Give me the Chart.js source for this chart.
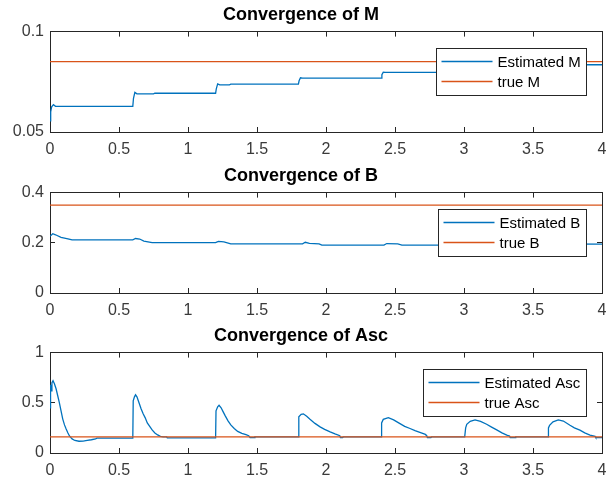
<!DOCTYPE html>
<html>
<head>
<meta charset="utf-8">
<script src="https://cdn.jsdelivr.net/npm/chart.js@4.4.0/dist/chart.umd.min.js"></script>
<style>
    html, body { margin: 0; padding: 0; background: #fff; }
    .plot { position: absolute; left: 0; width: 609px; height: 161px; }
</style>
</head>
<body>
<div class="plot" style="top:0"><canvas id="plot-m"></canvas></div>
<div class="plot" style="top:161px"><canvas id="plot-b"></canvas></div>
<div class="plot" style="top:321px"><canvas id="plot-asc"></canvas></div>
<script>
// time axis ticks shared by the three subplots
const xTicks = [0, 0.5, 1, 1.5, 2, 2.5, 3, 3.5, 4];

// Convergence of M
const timeM = [0, 0.005, 0.012, 0.025, 0.04, 0.6, 0.605, 0.615, 0.63, 0.75, 0.76, 1.2, 1.205, 1.215, 1.23, 1.3, 1.31,
    1.8, 1.805, 1.815, 1.83, 2.4, 2.405, 2.415, 2.43, 3.0, 3.005, 3.015, 3.03, 3.6, 3.605, 3.615, 3.63, 4.0];
const estM = [0.0556, 0.060, 0.0625, 0.0636, 0.0628, 0.0628, 0.0668, 0.0697, 0.0690, 0.0690, 0.0693, 0.0693, 0.0715, 0.0740, 0.0735, 0.0735, 0.0738,
    0.0738, 0.0755, 0.0770, 0.0768, 0.0768, 0.0785, 0.0798, 0.0797, 0.0797, 0.0810, 0.0818, 0.0818, 0.0818, 0.0828, 0.0835, 0.0835, 0.0835];
const trueM = 0.085;
const yTicksM = [0.05, 0.1];

// Convergence of B
const timeB = [0, 0.02, 0.04, 0.08, 0.13, 0.16, 0.6, 0.62, 0.65, 0.68, 0.74, 1.2, 1.22, 1.26, 1.31, 1.83, 1.85, 1.88, 1.95, 1.97,
    2.42, 2.44, 2.52, 2.55, 3.02, 3.04, 3.15, 3.6, 3.64, 4.0];
const estB = [0.226, 0.236, 0.232, 0.222, 0.216, 0.212, 0.212, 0.217, 0.215, 0.207, 0.201, 0.201, 0.206, 0.204, 0.196, 0.196, 0.202, 0.198, 0.196, 0.191,
    0.191, 0.197, 0.196, 0.191, 0.191, 0.195, 0.193, 0.193, 0.196, 0.195];
const trueB = 0.35;
const yTicksB = [0, 0.2, 0.4];

// Convergence of Asc
const timeAsc = [0, 0.004, 0.008, 0.014, 0.022, 0.032, 0.044, 0.056, 0.068, 0.08, 0.092, 0.105, 0.117, 0.13, 0.141, 0.16, 0.18, 0.21, 0.24, 0.27, 0.3, 0.33, 0.34, 0.6,
    0.603, 0.612, 0.62, 0.63, 0.645, 0.66, 0.675, 0.69, 0.705, 0.72, 0.74, 0.76, 0.78, 0.8, 0.82, 0.845, 0.85, 1.2,
    1.203, 1.215, 1.225, 1.24, 1.255, 1.27, 1.29, 1.31, 1.335, 1.36, 1.39, 1.42, 1.44, 1.45, 1.48, 1.485, 1.8,
    1.803, 1.82, 1.836, 1.86, 1.884, 1.92, 1.957, 1.99, 2.03, 2.065, 2.1, 2.105, 2.12, 2.125, 2.4,
    2.403, 2.415, 2.452, 2.49, 2.536, 2.57, 2.609, 2.645, 2.68, 2.72, 2.73, 2.735, 2.76, 2.765, 3.005,
    3.012, 3.02, 3.045, 3.08, 3.12, 3.164, 3.2, 3.237, 3.275, 3.31, 3.33, 3.335, 3.37, 3.375, 3.61,
    3.612, 3.62, 3.645, 3.683, 3.72, 3.768, 3.8, 3.84, 3.875, 3.913, 3.95, 3.955, 4.0];
const estAsc = [0.45, 0.68, 0.62, 0.70, 0.72, 0.69, 0.64, 0.57, 0.50, 0.42, 0.34, 0.28, 0.24, 0.20, 0.17, 0.14, 0.125, 0.117, 0.118, 0.125, 0.132, 0.14, 0.148, 0.148,
    0.52, 0.56, 0.58, 0.56, 0.50, 0.44, 0.39, 0.35, 0.30, 0.27, 0.23, 0.20, 0.18, 0.165, 0.16, 0.16, 0.15, 0.15,
    0.42, 0.46, 0.475, 0.45, 0.41, 0.37, 0.32, 0.28, 0.245, 0.215, 0.195, 0.183, 0.172, 0.153, 0.153, 0.16, 0.16,
    0.36, 0.385, 0.39, 0.365, 0.336, 0.295, 0.26, 0.235, 0.21, 0.19, 0.172, 0.153, 0.153, 0.16, 0.16,
    0.30, 0.335, 0.352, 0.33, 0.293, 0.265, 0.244, 0.222, 0.205, 0.185, 0.172, 0.153, 0.153, 0.16, 0.16,
    0.25, 0.286, 0.315, 0.329, 0.315, 0.286, 0.258, 0.23, 0.2, 0.178, 0.17, 0.153, 0.153, 0.16, 0.16,
    0.25, 0.275, 0.31, 0.329, 0.318, 0.276, 0.25, 0.227, 0.2, 0.178, 0.165, 0.153, 0.153];
const trueAsc = 0.16;
const yTicksAsc = [0, 0.5, 1];

const FONT = '"Liberation Sans", Arial, Helvetica, sans-serif';
const AXIS = '#262626';
const LABEL = '#3a3a3a';
const BLUE = '#0072BD';
const ORANGE = '#D95319';

// legend drawn inside the axes, like matlab's "northeast" box
const boxLegend = {
    id: 'boxLegend',
    afterDraw(chart, args, opts) {
        const { ctx, chartArea } = chart;
        const sets = chart.data.datasets;
        ctx.save();
        ctx.font = '15px ' + FONT;
        const textW = Math.max(...sets.map((d) => ctx.measureText(d.label).width));
        const w = Math.round(5 + 51 + 5 + textW + 6);
        const h = 47;
        const x0 = Math.round(chartArea.right - opts.right - w) + 0.5;
        const y0 = Math.round(chartArea.top + opts.top) + 0.5;
        ctx.fillStyle = '#fff';
        ctx.fillRect(x0, y0, w, h);
        ctx.strokeStyle = AXIS;
        ctx.lineWidth = 1;
        ctx.strokeRect(x0, y0, w, h);
        sets.forEach((d, i) => {
            const y = y0 + 13 + 20 * i;
            ctx.strokeStyle = d.borderColor;
            ctx.lineWidth = d.borderWidth;
            ctx.beginPath();
            ctx.moveTo(x0 + 5, y);
            ctx.lineTo(x0 + 56, y);
            ctx.stroke();
            ctx.fillStyle = '#000';
            ctx.textBaseline = 'middle';
            ctx.fillText(d.label, x0 + 61, y + 1);
        });
        ctx.restore();
    },
};

const fmt = (v) => String(Number(Number(v).toFixed(3)));

function axisSide(position, min, max, ticks, showLabels) {
    const horizontal = position === 'bottom' || position === 'top';
    return {
        type: 'linear',
        position,
        min,
        max,
        afterBuildTicks: (scale) => {
            scale.ticks = ticks.map((value) => ({ value }));
        },
        afterFit: (scale) => {
            if (position === 'bottom') scale.height = 29;
            if (position === 'left') scale.width = 50;
            if (position === 'top') scale.height = 0;
            if (position === 'right') scale.width = 0;
            // let the end labels hang over the frame instead of shrinking the axes
            scale.paddingLeft = 0;
            scale.paddingRight = 0;
            scale.paddingTop = 0;
            scale.paddingBottom = 0;
        },
        grid: { drawOnChartArea: false, drawTicks: true, tickLength: -5, color: AXIS, lineWidth: 1 },
        border: { display: true, color: AXIS, width: 1 },
        ticks: {
            display: showLabels,
            color: LABEL,
            font: { family: FONT, size: 16 },
            padding: horizontal ? 13 : 11,
            maxRotation: 0,
            autoSkip: false,
            callback: (value) => fmt(value),
        },
    };
}

function renderSubplot(canvasId, title, times, estimate, truth, yTicks, names) {
    const yMin = yTicks[0];
    const yMax = yTicks[yTicks.length - 1];
    new Chart(document.getElementById(canvasId), {
        type: 'line',
        data: {
            datasets: [
                {
                    label: names[0],
                    data: times.map((t, i) => ({ x: t, y: estimate[i] })),
                    borderColor: BLUE,
                    borderWidth: 1.3,
                    pointRadius: 0,
                    tension: 0,
                    order: 1,
                    xAxisID: 'x',
                    yAxisID: 'y',
                },
                {
                    label: names[1],
                    data: [{ x: 0, y: truth }, { x: 4, y: truth }],
                    borderColor: ORANGE,
                    borderWidth: 1.3,
                    pointRadius: 0,
                    order: 0,
                    xAxisID: 'x',
                    yAxisID: 'y',
                },
            ],
        },
        options: {
            responsive: true,
            maintainAspectRatio: false,
            animation: false,
            devicePixelRatio: 1,
            layout: { padding: { left: 0, right: 7, top: 0, bottom: 0 } },
            plugins: {
                legend: { display: false },
                tooltip: { enabled: false },
                title: {
                    display: true,
                    text: title,
                    color: '#000',
                    font: { family: FONT, size: 18, weight: 'bold' },
                    padding: { top: 4, bottom: 6 },
                },
                boxLegend: { right: 16, top: 16 },
            },
            scales: {
                x: axisSide('bottom', 0, 4, xTicks, true),
                y: axisSide('left', yMin, yMax, yTicks, true),
                xTop: axisSide('top', 0, 4, xTicks, false),
                yRight: axisSide('right', yMin, yMax, yTicks, false),
            },
        },
        plugins: [boxLegend],
    });
}

renderSubplot('plot-m', 'Convergence of M', timeM, estM, trueM, yTicksM, ['Estimated M', 'true M']);
renderSubplot('plot-b', 'Convergence of B', timeB, estB, trueB, yTicksB, ['Estimated B', 'true B']);
renderSubplot('plot-asc', 'Convergence of Asc', timeAsc, estAsc, trueAsc, yTicksAsc, ['Estimated Asc', 'true Asc']);
</script>
</body>
</html>
